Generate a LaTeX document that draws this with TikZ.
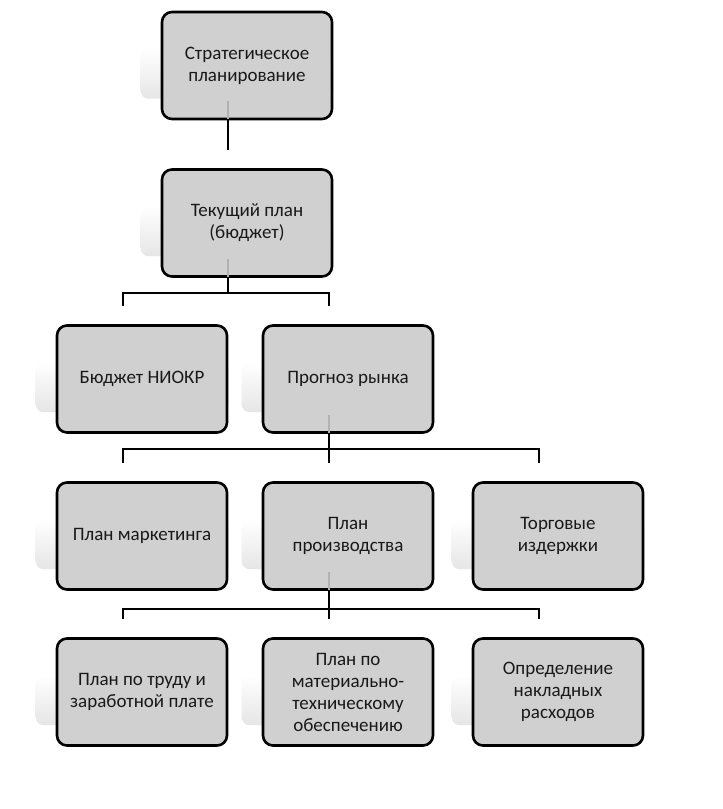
\documentclass[tikz,border=0pt]{standalone}
\usepackage{fontspec}
\setmainfont{Carlito}
\usetikzlibrary{backgrounds,calc}
\definecolor{boxgray}{RGB}{208,208,208}
\begin{document}
\begin{tikzpicture}[x=1pt,y=-1pt,
  box/.style={draw=black, line width=2.6pt, rounded corners=10pt, fill=boxgray,
    minimum width=170pt, minimum height=107pt, align=center, inner sep=0pt,
    font=\fontsize{19}{22}\selectfont, text=black!90},
  conn/.style={line width=2.6pt, draw=black},
  ghost/.style={draw=gray!60, line width=1.6pt},
  softshadow/.style={top color=white, bottom color=gray!20, rounded corners=8pt, draw=none}
]
\useasboundingbox (0,0) rectangle (723,809);

% boxes
\node[box] (b1) at (247,65.5) {Стратегическое\\планирование};
\node[box] (b2) at (247,223) {Текущий план\\(бюджет)};
\node[box] (b3) at (142,379) {Бюджет НИОКР};
\node[box] (b4) at (348,379) {Прогноз рынка};
\node[box] (b5) at (142,536) {План маркетинга};
\node[box] (b6) at (348,536) {План\\производства};
\node[box] (b7) at (558,536) {Торговые\\издержки};
\node[box] (b8) at (142,692) {План по труду и\\заработной плате};
\node[box] (b9) at (348,692) {План по\\материально-\\техническому\\обеспечению};
\node[box] (b10) at (558,692) {Определение\\накладных\\расходов};

% white page and soft shadows behind the boxes
\begin{scope}[on background layer]
\fill[white] (0,0) rectangle (723,809);
\foreach \n in {b1,b2,b3,b4,b5,b6,b7,b8,b9,b10}{
  \shade[softshadow] ([xshift=-20pt,yshift=-38pt]\n.north west) rectangle ([yshift=-88pt]\n.north east);
}
\end{scope}

% connector ends
\foreach \n in {b1,b2,b3,b4,b5,b6,b7,b8,b9,b10}{
  \coordinate (f\n) at ([xshift=-19pt]\n.south);
  \coordinate (t\n) at ([xshift=-19pt,yshift=18pt]\n.north);
}

% connectors
\draw[conn] (fb1) -- ++(0,30);
\draw[conn] (fb2) -- ++(0,15) coordinate (m2);
\draw[conn] (tb3) |- (m2) -| (tb4);
\draw[conn] (fb4) -- ++(0,15) coordinate (m4);
\draw[conn] (tb5) |- (m4) -| (tb7);
\draw[conn] (m4) -- (tb6);
\draw[conn] (fb6) -- ++(0,18) coordinate (m6);
\draw[conn] (tb8) |- (m6) -| (tb10);
\draw[conn] (m6) -- (tb9);

% faint lines seen through the boxes
\foreach \n in {b1,b2,b4,b6}{
  \draw[ghost] ([yshift=1.3pt]f\n) -- ++(0,-18);
}
\end{tikzpicture}
\end{document}
